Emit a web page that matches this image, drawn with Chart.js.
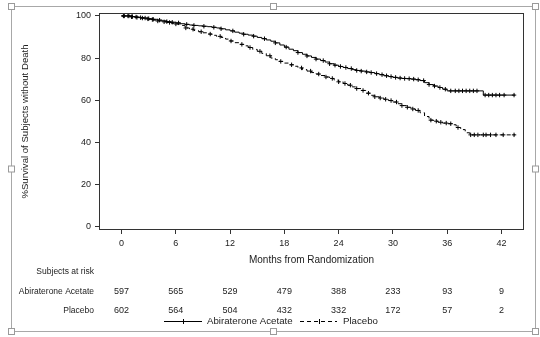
<!DOCTYPE html>
<html>
<head>
<meta charset="utf-8">
<script src="https://cdn.jsdelivr.net/npm/chart.js@4"></script>
<style>
  html, body { margin: 0; padding: 0; background: #fff; }
  #contenedor { width: 540px; height: 337px; position: relative; }
</style>
</head>
<body>
<div id="contenedor"><canvas id="graficoKM"></canvas></div>
<script>

// Abiraterone Acetate: meses y % de supervivencia (escalones)
var tiemposAbi = [0, 0.5, 1, 1.5, 2, 2.5, 3, 3.5, 4, 4.5, 5, 5.5, 6, 6.5, 7, 7.5, 8, 8.5, 9, 9.5,
  10, 10.5, 11, 11.5, 12, 12.5, 13, 13.5, 14, 14.5, 15, 15.5, 16, 16.5, 17, 17.5, 18, 18.5, 19, 19.5,
  20, 20.5, 21, 21.5, 22, 22.5, 23, 23.5, 24, 24.5, 25, 25.5, 26, 26.5, 27, 27.5, 28, 28.5, 29, 29.5,
  30, 30.5, 31, 31.5, 32, 32.5, 33, 33.5, 34, 34.5, 35, 35.5, 36, 40, 43.5];
var supervAbi = [100, 100, 99.7, 99.5, 99.2, 99, 98.7, 98.4, 98, 97.7, 97.3, 97, 96.7, 96.3, 96, 95.7, 95.5, 95.3, 95.1, 94.9,
  94.6, 94.3, 93.9, 93.4, 92.9, 92.3, 91.8, 91.3, 90.9, 90.4, 89.8, 89.2, 88.6, 88, 87.2, 86.2, 85.2, 84.2, 83.5, 82.6,
  81.8, 81, 80.3, 79.5, 78.8, 78.1, 77.3, 76.6, 76, 75.5, 75, 74.5, 74.1, 73.8, 73.4, 73.1, 72.6, 72.1, 71.6, 71.2,
  70.8, 70.5, 70.3, 70.2, 70, 69.7, 69.3, 68.3, 67.4, 66.7, 66, 65.2, 64.4, 62.4, 62.4];
// censuras (+) de Abiraterone Acetate, en meses
var censuraAbi = [0.3, 0.8, 1.2, 1.6, 2.1, 2.6, 3.0, 3.5, 4.2, 5.0, 5.6, 6.3, 7.2, 8.0, 9.1, 10.2, 11.0, 12.3,
  13.5, 14.6, 15.8, 17.0, 18.2, 19.5, 20.5, 21.5, 22.3, 23.0, 23.6, 24.2, 24.8, 25.4, 26.0, 26.5, 27.1, 27.6,
  28.2, 28.8, 29.3, 29.8, 30.3, 30.8, 31.3, 31.8, 32.3, 32.8, 33.4, 34.0, 34.6, 35.2, 35.8, 36.4, 36.9, 37.3,
  37.7, 38.1, 38.5, 38.9, 39.3, 40.2, 40.6, 41.0, 41.4, 41.8, 42.3, 43.4];

// Placebo: meses y % de supervivencia (escalones)
var tiemposPla = [0, 0.5, 1, 1.5, 2, 2.5, 3, 3.5, 4, 4.5, 5, 5.5, 6, 6.5, 7, 7.5, 8, 8.5, 9, 9.5,
  10, 10.5, 11, 11.5, 12, 12.5, 13, 13.5, 14, 14.5, 15, 15.5, 16, 16.5, 17, 17.5, 18, 18.5, 19, 19.5,
  20, 20.5, 21, 21.5, 22, 22.5, 23, 23.5, 24, 24.5, 25, 25.5, 26, 26.5, 27, 27.5, 28, 28.5, 29, 29.5,
  30, 30.5, 31, 31.5, 32, 32.5, 33, 33.5, 34, 34.5, 35, 35.5, 36, 36.5, 37, 37.5, 38, 38.5, 43.5];
var supervPla = [100, 100, 99.6, 99.3, 99, 98.6, 98.3, 98, 97.6, 97.2, 96.9, 96.5, 96.2, 95.5, 94.3, 93.7, 93.1, 92.5, 92, 91.4,
  90.8, 90.3, 89.8, 89, 88.1, 87.3, 86.5, 85.8, 85, 84.1, 83.2, 82.2, 81.1, 80, 79.2, 78.4, 77.6, 76.8, 76.1, 75.3,
  74.5, 73.8, 73.1, 72.4, 71.7, 71, 70.3, 69.5, 68.7, 67.9, 67.1, 66.3, 65.5, 64.6, 63.3, 62.3, 61.6, 61, 60.4, 59.8,
  59.1, 58.3, 57.4, 56.6, 55.8, 55.1, 54, 52.2, 50.5, 50, 49.5, 49.1, 48.8, 48.3, 47, 46, 44.5, 43.5, 43.5];
// censuras (+) de Placebo, en meses
var censuraPla = [0.2, 0.7, 1.1, 1.7, 2.3, 2.9, 3.4, 4.0, 4.7, 5.3, 6.0, 7.1, 7.9, 8.8, 9.8, 10.9, 12.1, 13.3,
  14.2, 15.3, 16.4, 17.6, 18.8, 19.9, 20.9, 21.8, 22.6, 23.3, 24.0, 24.7, 25.3, 26.0, 26.7, 27.3, 28.0, 28.6,
  29.2, 29.8, 30.4, 31.0, 31.6, 32.2, 32.8, 34.2, 34.8, 35.3, 35.9, 36.4, 37.2, 38.6, 39.0, 39.4, 40.0, 40.3,
  40.8, 41.4, 42.2, 43.4];

// marcas de los ejes
var ticksMeses = [0, 6, 12, 18, 24, 30, 36, 42];
var ticksSupervivencia = [0, 20, 40, 60, 80, 100];

// sujetos en riesgo en cada marca del eje X
var nombresBrazos = ['Abiraterone Acetate', 'Placebo'];
var riesgoAbi = [597, 565, 529, 479, 388, 233, 93, 9];
var riesgoPla = [602, 564, 504, 432, 332, 172, 57, 2];
//FIN datos del gráfico

var fuente = '"Liberation Sans", Arial, sans-serif';
var colorTexto = '#222';
var colorEje = '#333';

// Convertir los arreglos en puntos {x, y}
function puntosCurva(tiempos, superv) {
  return tiempos.map(function (t, i) {
    return { x: t, y: superv[i] };
  });
}

// Buscar la supervivencia del escalón en el tiempo de cada censura
function puntosCensura(censuras, tiempos, superv) {
  return censuras.map(function (c) {
    var valor = superv[0];
    for (var i = 0; i < tiempos.length; i++) {
      if (tiempos[i] <= c) valor = superv[i];
    }
    return { x: c, y: valor };
  });
}

//INICIO plugin para marco, tabla de riesgo y leyenda
var pluginExtras = {
  id: 'extras',
  afterDraw: function (chart) {
    var ctx = chart.ctx;
    var area = chart.chartArea;
    var xEscala = chart.scales.x;
    ctx.save();

    // marco del objeto (como en el documento original)
    ctx.strokeStyle = '#a8a8a8';
    ctx.lineWidth = 1;
    ctx.strokeRect(11.5, 6.5, 524, 325);
    var asas = [[11.5, 6.5], [273.5, 6.5], [535.5, 6.5], [11.5, 169], [535.5, 169],
      [11.5, 331.5], [273.5, 331.5], [535.5, 331.5]];
    asas.forEach(function (a) {
      ctx.fillStyle = '#fff';
      ctx.fillRect(a[0] - 3, a[1] - 3, 6, 6);
      ctx.strokeStyle = '#9a9a9a';
      ctx.strokeRect(a[0] - 3, a[1] - 3, 6, 6);
    });

    // borde del área del gráfico
    ctx.strokeStyle = colorEje;
    ctx.strokeRect(area.left + 0.5, area.top + 0.5, area.right - area.left - 1, area.bottom - area.top - 1);

    // tabla de sujetos en riesgo
    ctx.fillStyle = colorTexto;
    ctx.font = '8.5px ' + fuente;
    ctx.textBaseline = 'middle';
    ctx.textAlign = 'right';
    ctx.fillText('Subjects at risk', 94, 272);
    ctx.fillText(nombresBrazos[0], 94, 291.5);
    ctx.fillText(nombresBrazos[1], 94, 310.5);
    ctx.font = '9px ' + fuente;
    ctx.textAlign = 'center';
    ticksMeses.forEach(function (mes, i) {
      var x = xEscala.getPixelForValue(mes);
      ctx.fillText(String(riesgoAbi[i]), x, 291.5);
      ctx.fillText(String(riesgoPla[i]), x, 310.5);
    });

    // leyenda
    ctx.strokeStyle = '#000';
    ctx.beginPath();
    ctx.moveTo(164, 321.5);
    ctx.lineTo(202, 321.5);
    ctx.moveTo(183.5, 319);
    ctx.lineTo(183.5, 324);
    ctx.stroke();
    ctx.setLineDash([4, 3]);
    ctx.beginPath();
    ctx.moveTo(300, 321.5);
    ctx.lineTo(337, 321.5);
    ctx.stroke();
    ctx.setLineDash([]);
    ctx.beginPath();
    ctx.moveTo(319.5, 319);
    ctx.lineTo(319.5, 324);
    ctx.stroke();
    ctx.font = '9.7px ' + fuente;
    ctx.textAlign = 'left';
    ctx.fillText(nombresBrazos[0], 207, 321);
    ctx.fillText(nombresBrazos[1], 343, 321);

    ctx.restore();
  }
};
//FIN plugin

// Crear el gráfico de Kaplan-Meier con Chart.js
var ctx = document.getElementById('graficoKM').getContext('2d');
var graficoKM = new Chart(ctx, {
  type: 'line',
  data: {
    datasets: [
      {
        label: nombresBrazos[0],
        data: puntosCurva(tiemposAbi, supervAbi),
        borderColor: '#000',
        borderWidth: 1,
        stepped: 'before',
        pointRadius: 0,
        fill: false,
      },
      {
        label: nombresBrazos[1],
        data: puntosCurva(tiemposPla, supervPla),
        borderColor: '#000',
        borderWidth: 1,
        borderDash: [4, 3],
        stepped: 'before',
        pointRadius: 0,
        fill: false,
      },
      {
        label: 'censura abi',
        data: puntosCensura(censuraAbi, tiemposAbi, supervAbi),
        showLine: false,
        pointStyle: 'cross',
        pointRadius: 2.2,
        pointBorderWidth: 1,
        pointBorderColor: '#000',
      },
      {
        label: 'censura pla',
        data: puntosCensura(censuraPla, tiemposPla, supervPla),
        showLine: false,
        pointStyle: 'cross',
        pointRadius: 2.2,
        pointBorderWidth: 1,
        pointBorderColor: '#000',
      },
    ],
  },
  options: {
    responsive: true,
    maintainAspectRatio: false,
    animation: false,
    layout: {
      padding: { left: 0, top: 13, right: 16, bottom: 0 },
    },
    scales: {
      x: {
        type: 'linear',
        min: -2.5,
        max: 44.5,
        afterFit: function (escala) {
          escala.height = 107;
        },
        afterBuildTicks: function (escala) {
          escala.ticks = ticksMeses.map(function (v) { return { value: v }; });
        },
        ticks: {
          color: colorTexto,
          font: { family: fuente, size: 9 },
          padding: 4,
          maxRotation: 0,
        },
        grid: {
          drawOnChartArea: false,
          drawTicks: true,
          tickLength: 4,
          tickColor: colorEje,
        },
        border: { display: false },
        title: {
          display: true,
          text: 'Months from Randomization',
          color: colorTexto,
          font: { family: fuente, size: 10 },
          padding: { top: 0, bottom: 71 },
        },
      },
      y: {
        min: -1.7,
        max: 101.4,
        afterFit: function (escala) {
          escala.width = 99;
        },
        afterBuildTicks: function (escala) {
          escala.ticks = ticksSupervivencia.map(function (v) { return { value: v }; });
        },
        ticks: {
          color: colorTexto,
          font: { family: fuente, size: 9 },
          padding: 4,
        },
        grid: {
          drawOnChartArea: false,
          drawTicks: true,
          tickLength: 4,
          tickColor: colorEje,
        },
        border: { display: false },
        title: {
          display: true,
          text: '%Survival of Subjects without Death',
          color: colorTexto,
          font: { family: fuente, size: 9.6 },
          padding: { top: 20, bottom: 0 },
        },
      },
    },
    plugins: {
      legend: { display: false },
      tooltip: { enabled: false },
    },
  },
  plugins: [pluginExtras],
});
</script>
</body>
</html>
